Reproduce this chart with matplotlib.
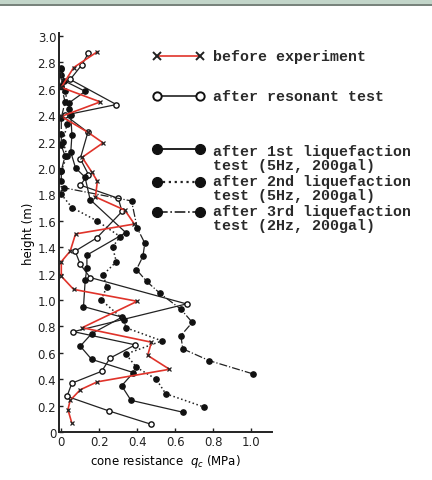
import numpy as np
import matplotlib.pyplot as plt
from matplotlib.lines import Line2D
from matplotlib.patches import Rectangle

# data: height (m) and cone resistance qc (MPa)
h_before = [2.88, 2.76, 2.61, 2.50, 2.39, 2.27, 2.19, 2.08, 1.97, 1.90, 1.78, 1.68, 1.575,
            1.50, 1.37, 1.29, 1.18, 1.08, 0.99, 0.79, 0.68, 0.58, 0.475, 0.38, 0.32,
            0.24, 0.17, 0.07]
q_before = [0.19, 0.065, 0.0, 0.205, 0.0, 0.14, 0.22, 0.11, 0.16, 0.19, 0.18, 0.335, 0.385,
            0.075, 0.047, 0.0, 0.0, 0.065, 0.40, 0.11, 0.475, 0.455, 0.57, 0.19, 0.10,
            0.047, 0.035, 0.055]

h_reson = [2.87, 2.78, 2.67, 2.48, 2.40, 2.27, 2.07, 1.95, 1.87, 1.77, 1.67, 1.47, 1.37,
           1.27, 1.17, 0.97, 0.76, 0.66, 0.56, 0.46, 0.37, 0.27, 0.16, 0.06]
q_reson = [0.143, 0.108, 0.047, 0.29, 0.02, 0.14, 0.10, 0.143, 0.10, 0.30, 0.32, 0.187, 0.073,
           0.10, 0.152, 0.66, 0.064, 0.39, 0.257, 0.213, 0.056, 0.03, 0.25, 0.47]

h_liq1 = [2.76, 2.66, 2.58, 2.49, 2.40, 2.25, 2.12, 2.00, 1.93, 1.76, 1.51, 1.34, 1.24,
          1.15, 0.95, 0.87, 0.745, 0.65, 0.55, 0.45, 0.35, 0.24, 0.15]
q_liq1 = [0.0, 0.015, 0.126, 0.038, 0.05, 0.056, 0.05, 0.075, 0.125, 0.152, 0.34, 0.135, 0.135,
          0.126, 0.117, 0.32, 0.16, 0.10, 0.16, 0.38, 0.318, 0.367, 0.64]

h_liq2 = [2.70, 2.58, 2.45, 2.33, 2.20, 2.09, 1.98, 1.80, 1.70, 1.60, 1.48, 1.40, 1.29,
          1.19, 1.10, 1.00, 0.85, 0.79, 0.69, 0.59, 0.49, 0.40, 0.29, 0.19]
q_liq2 = [0.0, 0.02, 0.04, 0.03, 0.01, 0.03, 0.0, 0.0, 0.056, 0.187, 0.31, 0.27, 0.29,
          0.22, 0.24, 0.21, 0.33, 0.34, 0.53, 0.34, 0.396, 0.50, 0.55, 0.75]

h_liq3 = [2.75, 2.62, 2.50, 2.38, 2.26, 2.17, 2.09, 1.98, 1.90, 1.85, 1.75, 1.545, 1.43,
          1.33, 1.23, 1.14, 1.05, 0.93, 0.83, 0.73, 0.63, 0.54, 0.44]
q_liq3 = [0.0, 0.0, 0.02, 0.0, 0.0, 0.0, 0.02, 0.0, 0.0, 0.012, 0.37, 0.40, 0.44,
          0.43, 0.396, 0.45, 0.52, 0.63, 0.69, 0.63, 0.64, 0.78, 1.01]

xticks = [0, 0.2, 0.4, 0.6, 0.8, 1.0]
xticklabels = ['0', '0.2', '0.4', '0.6', '0.8', '1.0']
yticks = np.round(np.arange(0, 3.01, 0.2), 1)
yticklabels = ['0'] + ['%.1f' % v for v in yticks[1:]]

legend_labels = ['before experiment', 'after resonant test',
                 'after 1st liquefaction\ntest (5Hz, 200gal)',
                 'after 2nd liquefaction\ntest (5Hz, 200gal)',
                 'after 3rd liquefaction\ntest (2Hz, 200gal)']

fig = plt.figure(figsize=(4.32, 4.81), dpi=100)
ax = fig.add_axes([0.1366, 0.0998, 0.493, 0.829])

# series
ax.plot(q_reson, h_reson, '-', color='#222222', lw=0.9, marker='o', ms=3.8,
        mfc='white', mec='#111111', mew=1.0)
ax.plot(q_liq1, h_liq1, '-', color='#222222', lw=0.9, marker='o', ms=3.8,
        mfc='#111111', mec='#111111')
ax.plot(q_liq2, h_liq2, ':', color='#222222', lw=1.1, marker='o', ms=3.8,
        mfc='#111111', mec='#111111')
ax.plot(q_liq3, h_liq3, '-.', color='#222222', lw=0.9, marker='o', ms=3.8,
        mfc='#111111', mec='#111111')
ax.plot(q_before, h_before, '-', color='#e0332a', lw=1.2, marker='x', ms=3.5,
        mec='#222222', mew=0.9)

ax.set_xlim(-0.012, 1.11)
ax.set_ylim(0, 3.02)
ax.spines['top'].set_visible(False)
ax.spines['right'].set_visible(False)
for s in ['left', 'bottom']:
    ax.spines[s].set_linewidth(1.4)
    ax.spines[s].set_color('#222222')
ax.set_xticks(xticks)
ax.set_xticklabels(xticklabels)
ax.set_yticks(yticks)
ax.set_yticklabels(yticklabels)
ax.tick_params(direction='in', length=3, width=1, labelsize=8.5, colors='#222222', pad=2)
ax.set_ylabel('height (m)', fontsize=8.5, labelpad=2)
ax.set_xlabel('cone resistance  $q_c$ (MPa)', fontsize=8.5, labelpad=3)

# legend drawn by hand in figure pixels
W, H = 432.0, 481.0
def fx(px):
    return px / W
def fy(py):
    return 1 - py / H

rows = [57, 97, 150, 183, 213]
text_y = [57, 97, 159, 189, 219]
styles = [
    dict(ls='-', color='#e0332a', marker='x', mfc='#222222', mec='#222222', ms=6, mew=1.4, lw=1.2),
    dict(ls='-', color='#222222', marker='o', mfc='white', mec='#111111', ms=6, mew=1.4, lw=1.2),
    dict(ls='-', color='#222222', marker='o', mfc='#111111', mec='#111111', ms=7, lw=1.4),
    dict(ls=':', color='#222222', marker='o', mfc='#111111', mec='#111111', ms=7, lw=1.6),
    dict(ls='-.', color='#222222', marker='o', mfc='#111111', mec='#111111', ms=7, lw=1.2),
]
for r, ty, st, lab in zip(rows, text_y, styles, legend_labels):
    fig.add_artist(Line2D([fx(157), fx(200)], [fy(r), fy(r)], transform=fig.transFigure, **st))
    fig.text(fx(213), fy(ty), lab, ha='left', va='center', fontsize=10.8,
             family='Liberation Mono', weight='bold', color='#2a2a2a', linespacing=1.0)

# top band of the scanned page
fig.add_artist(Rectangle((0, fy(5)), 1, 1, transform=fig.transFigure, color='#c2d5c9', lw=0))
fig.add_artist(Line2D([0, 1], [fy(5.5), fy(5.5)], transform=fig.transFigure, color='#5d6b62', lw=1.2))

fig.savefig('out.png', dpi=100)
